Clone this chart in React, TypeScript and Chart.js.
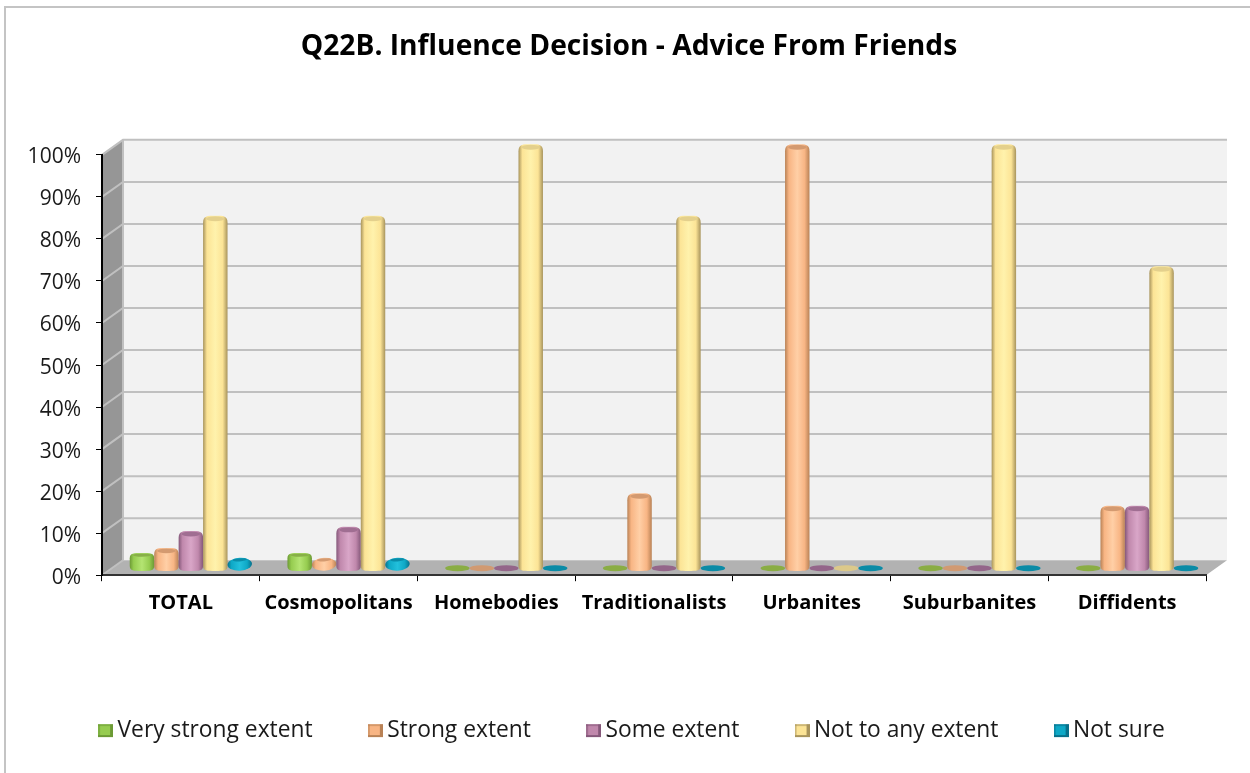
import React, { useEffect, useRef } from "react";
import { Chart, registerables } from "chart.js";

Chart.register(...registerables);

const categories = ["TOTAL", "Cosmopolitans", "Homebodies", "Traditionalists", "Urbanites", "Suburbanites", "Diffidents"];
const veryStrong = [3, 3, 0, 0, 0, 0, 0];
const strong = [4, 2, 0, 17, 100, 0, 14];
const some = [8, 9, 0, 0, 0, 0, 14];
const notAny = [83, 83, 100, 83, 0, 100, 71];
const notSure = [2, 2, 0, 0, 0, 0, 0];

const seriesNames = ["Very strong extent", "Strong extent", "Some extent", "Not to any extent", "Not sure"];
const seriesValues = [veryStrong, strong, some, notAny, notSure];
const light = ["#b4e472", "#ffcfa6", "#d9a6c8", "#fff2ac", "#22c0dc"];
const mid = ["#96cc50", "#f8b584", "#c088ac", "#fce496", "#0ea8c6"];
const edge = ["#6c9a35", "#b98256", "#85587a", "#a8945c", "#08708a"];
const cap = ["#88b048", "#d49a70", "#a06e92", "#e4d08c", "#0a8ca8"];
const flat = ["#8aad44", "#d19a72", "#94668a", "#dcc98a", "#0b8ba6"];

const DEPTH_X = 21;
const DEPTH_Y = 15;
const BAR_DX = 10;
const BAR_DY = -7;

function marker(i: number) {
  const c = document.createElement("canvas");
  c.width = 15;
  c.height = 15;
  const g = c.getContext("2d")!;
  g.fillStyle = mid[i];
  g.fillRect(0, 1, 12, 13);
  g.fillStyle = edge[i];
  g.fillRect(12, 1, 3, 13);
  g.fillRect(0, 12, 15, 2);
  g.globalAlpha = 0.55;
  g.fillRect(0, 1, 12, 2);
  g.fillRect(0, 1, 2, 13);
  return c;
}

const walls = {
  id: "walls",
  afterLayout(chart: any) {
    chart.legend.left += 6;
    chart.legend.right += 6;
  },
  beforeDraw(chart: any) {
    const { ctx, chartArea: a, scales } = chart;
    const y = scales.y;
    const t = a.top, b = a.bottom, l = a.left, r = a.right;
    ctx.save();
    ctx.fillStyle = "#f2f2f2";
    ctx.fillRect(l + DEPTH_X, t - DEPTH_Y, r - l, b - t);
    ctx.fillStyle = "#969696";
    ctx.beginPath();
    ctx.moveTo(l, t);
    ctx.lineTo(l + DEPTH_X, t - DEPTH_Y);
    ctx.lineTo(l + DEPTH_X, b - DEPTH_Y);
    ctx.lineTo(l, b);
    ctx.closePath();
    ctx.fill();
    ctx.fillStyle = "#b2b2b2";
    ctx.beginPath();
    ctx.moveTo(l, b);
    ctx.lineTo(l + DEPTH_X, b - DEPTH_Y);
    ctx.lineTo(r + DEPTH_X, b - DEPTH_Y);
    ctx.lineTo(r, b);
    ctx.closePath();
    ctx.fill();
    ctx.strokeStyle = "#c0c0c0";
    ctx.lineWidth = 2;
    for (const tick of y.ticks) {
      const py = y.getPixelForValue(tick.value);
      ctx.beginPath();
      ctx.moveTo(l, py);
      ctx.lineTo(l + DEPTH_X, py - DEPTH_Y);
      if (tick.value > 0) ctx.lineTo(r + DEPTH_X, py - DEPTH_Y);
      ctx.stroke();
    }
    ctx.beginPath();
    ctx.moveTo(l + DEPTH_X, t - DEPTH_Y);
    ctx.lineTo(l + DEPTH_X, b - DEPTH_Y);
    ctx.stroke();
    ctx.restore();
  },
};

function cylinder(ctx: CanvasRenderingContext2D, el: any, i: number, value: number) {
  const cx = el.x + BAR_DX;
  const rx = el.width / 2;
  const base = el.base + BAR_DY;
  const top = el.y + BAR_DY;
  const l = cx - rx;
  const r = cx + rx;
  if (value === 0) {
    ctx.fillStyle = flat[i];
    ctx.beginPath();
    ctx.ellipse(cx, base, rx, 3, 0, 0, Math.PI * 2);
    ctx.fill();
    return;
  }
  const h = base - top;
  const grad = ctx.createLinearGradient(l, 0, r, 0);
  grad.addColorStop(0, edge[i]);
  grad.addColorStop(0.16, mid[i]);
  grad.addColorStop(0.5, light[i]);
  grad.addColorStop(0.8, mid[i]);
  grad.addColorStop(1, edge[i]);
  ctx.fillStyle = grad;
  if (h < 10) {
    ctx.beginPath();
    ctx.ellipse(cx, (top + base + 1) / 2, rx, (h + 5) / 2, -0.06, 0, Math.PI * 2);
    ctx.fill();
    ctx.fillStyle = cap[i];
    ctx.beginPath();
    ctx.ellipse(cx, top, rx - 5, 1.6, -0.06, 0, Math.PI * 2);
    ctx.fill();
    return;
  }
  const s = Math.min(1, (h + 4) / 22);
  const ryT = 3 * s + 0.5;
  const ryB = 3.2;
  const sh = 6 * s + 1;
  ctx.beginPath();
  ctx.moveTo(l, top + sh - ryT);
  ctx.bezierCurveTo(l, top - ryT, l + 4, top - ryT, cx, top - ryT);
  ctx.bezierCurveTo(r - 4, top - ryT, r, top - ryT, r, top + sh - ryT);
  ctx.lineTo(r, base - 2);
  ctx.bezierCurveTo(r, base + ryB, r - 4, base + ryB, cx, base + ryB);
  ctx.bezierCurveTo(l + 4, base + ryB, l, base + ryB, l, base - 2);
  ctx.closePath();
  ctx.fill();
  ctx.fillStyle = cap[i];
  ctx.beginPath();
  ctx.ellipse(cx, top - 0.5, rx - 3, Math.max(1, ryT - 1), 0, 0, Math.PI * 2);
  ctx.fill();
}

const cylinders = {
  id: "cylinders",
  beforeDatasetsDraw(chart: any) {
    const { ctx } = chart;
    ctx.save();
    seriesValues.forEach((vals, i) => {
      const meta = chart.getDatasetMeta(i);
      meta.data.forEach((el: any, j: number) => cylinder(ctx, el, i, vals[j]));
    });
    ctx.restore();
  },
  beforeDatasetDraw() {
    return false;
  },
};

export default function App() {
  const ref = useRef<HTMLCanvasElement>(null);
  useEffect(() => {
    document.body.style.margin = "0";
    const chart = new Chart(ref.current!, {
      type: "bar",
      data: {
        labels: categories,
        datasets: seriesNames.map((name, i) => ({
          label: name,
          data: seriesValues[i],
          backgroundColor: mid[i],
          borderColor: edge[i],
          pointStyle: marker(i),
          yAxisID: "y",
          categoryPercentage: 0.775,
          barPercentage: 1,
        })),
      },
      options: {
        responsive: false,
        animation: false,
        events: [],
        layout: { padding: 0 },
        plugins: {
          tooltip: { enabled: false },
          title: {
            display: true,
            text: "Q22B. Influence Decision - Advice From Friends",
            color: "#000",
            font: { family: "'Open Sans'", size: 28.2, weight: "bold", lineHeight: 1.2 },
            padding: { top: 22, bottom: 91 },
          },
          legend: {
            position: "bottom",
            labels: {
              usePointStyle: true,
              boxWidth: 1,
              padding: 62.2,
              color: "#1a1a1a",
              font: { family: "'Open Sans'", size: 22.8 },
            },
          },
        },
        scales: {
          x: {
            grid: { drawOnChartArea: false, color: "#000", tickLength: 6, offset: true },
            border: { color: "#333", width: 2 },
            ticks: { color: "#000", padding: 10, maxRotation: 0, autoSkip: false, font: { family: "'Open Sans'", size: 20, weight: "bold" } },
            afterFit(s: any) { s.height = 81.8; },
          },
          y: {
            min: 0,
            max: 100,
            grid: { drawOnChartArea: false, color: "#000", tickLength: 6 },
            border: { color: "#000", width: 2 },
            ticks: { stepSize: 10, color: "#1a1a1a", padding: 15, labelOffset: 2.5, callback: (v: any) => v + "%", font: { family: "'Open Sans'", size: 21 } },
            afterFit(s: any) { s.width = 96; },
          },
          y2: {
            position: "right",
            display: true,
            grid: { display: false },
            border: { display: false },
            ticks: { display: false },
            afterFit(s: any) { s.width = 46; },
          },
        },
      } as any,
      plugins: [walls, cylinders],
    });
    return () => chart.destroy();
  }, []);
  return (
    <div style={{ position: "fixed", left: 0, top: 0, width: 1250, height: 773, overflow: "hidden", background: "#fff" }}>
      <div style={{ position: "absolute", left: 4, top: 6, right: 0, height: 2, background: "#c4c4c4" }} />
      <div style={{ position: "absolute", left: 4, top: 6, bottom: 0, width: 2, background: "#c4c4c4" }} />
      <canvas ref={ref} width={1246} height={744} style={{ position: "absolute", left: 6, top: 8, width: 1246, height: 744 }} />
    </div>
  );
}
